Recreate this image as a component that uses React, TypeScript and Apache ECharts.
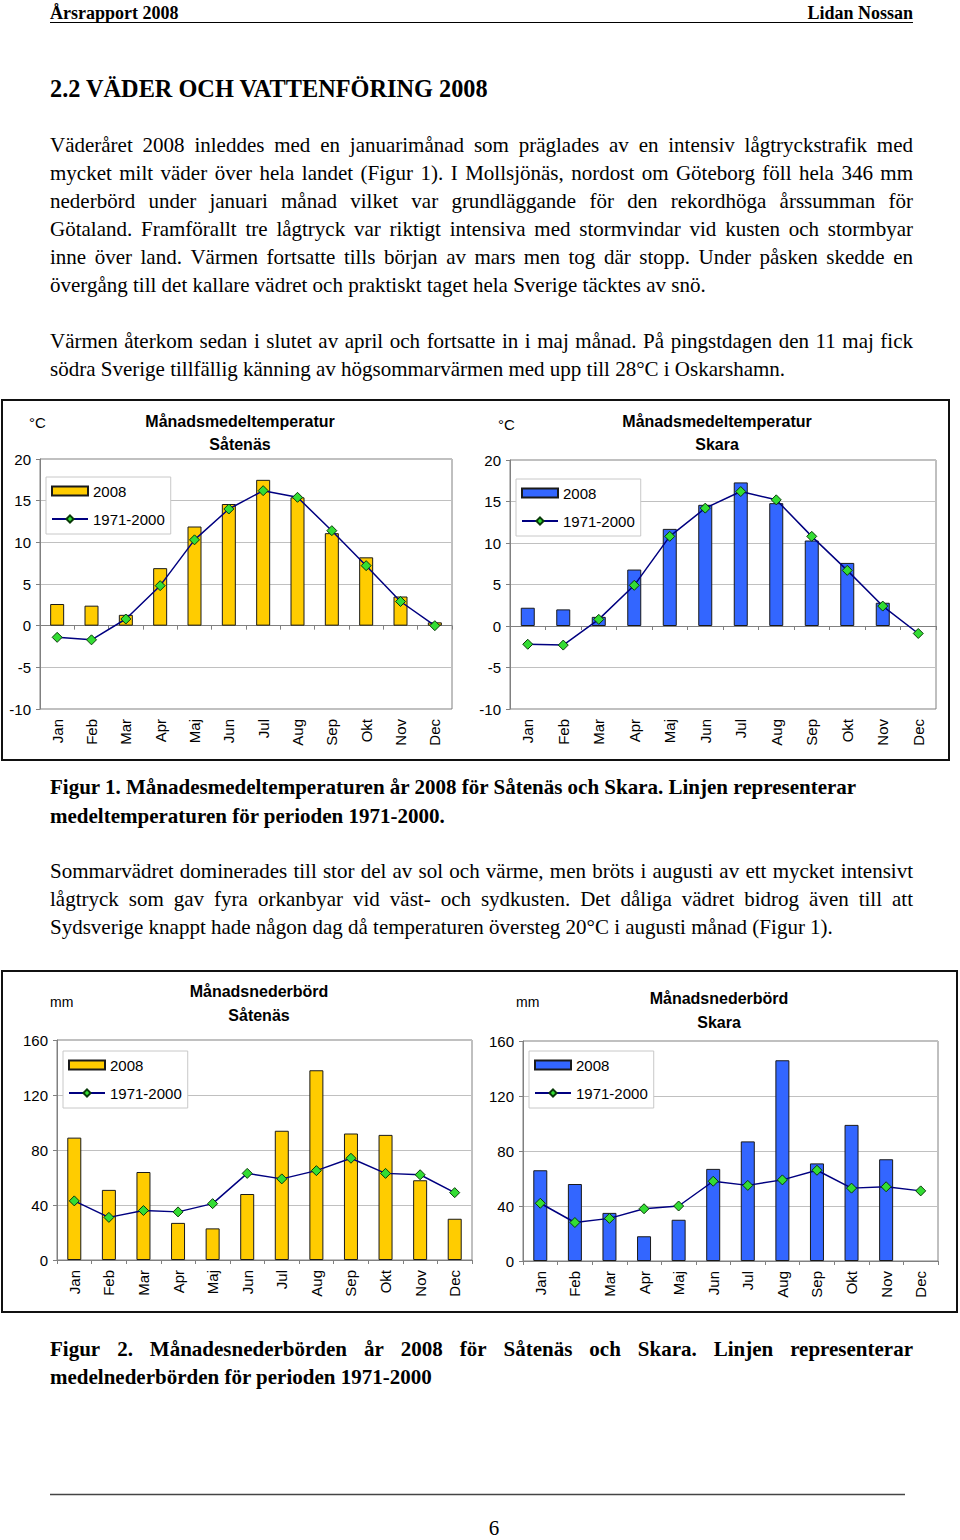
import React, { useEffect, useRef } from "react";
import * as echarts from "echarts";

// ---------- DATA ----------
const months = ["Jan", "Feb", "Mar", "Apr", "Maj", "Jun", "Jul", "Aug", "Sep", "Okt", "Nov", "Dec"];

const tempSatenas2008 = [2.6, 2.4, 1.3, 6.9, 11.9, 14.6, 17.5, 15.4, 11.1, 8.2, 3.5, 0.4];
const tempSatenasNormal = [-1.4, -1.7, 0.8, 4.8, 10.3, 14.0, 16.2, 15.4, 11.4, 7.2, 2.9, 0.0];
const tempSkara2008 = [2.2, 2.0, 1.1, 6.8, 11.7, 14.6, 17.3, 14.8, 10.3, 7.6, 2.8, null];
const tempSkaraNormal = [-2.2, -2.3, 0.8, 4.9, 10.8, 14.2, 16.2, 15.2, 10.8, 6.7, 2.4, -0.9];

const precSatenas2008 = [89, 51, 64, 27, 23, 48, 94, 138, 92, 91, 58, 30];
const precSatenasNormal = [43, 31, 36, 35, 41, 63, 59, 65, 74, 63, 62, 49];
const precSkara2008 = [66, 56, 35, 18, 30, 67, 87, 146, 71, 99, 74, null];
const precSkaraNormal = [42, 28, 31, 38, 40, 58, 55, 59, 66, 53, 54, 51];

const tempScale = { min: -10, max: 20, interval: 5 };
const precScale = { min: 0, max: 160, interval: 40 };

const seriesNames = ["2008", "1971-2000"];

// ---------- PAGE TEXT ----------
type Line = { text: string; x: number; y: number; size: number; bold?: boolean; mode?: "left" | "right" | "center" | "justify" };
const X0 = 50;
const X1 = 913;
const BODY = 21;

const pageLines: Line[] = [
  { text: "Årsrapport 2008", x: 50, y: 13, size: 18, bold: true },
  { text: "Lidan Nossan", x: 913, y: 13, size: 18, bold: true, mode: "right" },
  { text: "2.2 VÄDER OCH VATTENFÖRING 2008", x: 50, y: 88, size: 24.3, bold: true },

  { text: "Väderåret 2008 inleddes med en januarimånad som präglades av en intensiv lågtryckstrafik med", x: X0, y: 145, size: BODY, mode: "justify" },
  { text: "mycket milt väder över hela landet (Figur 1). I Mollsjönäs, nordost om Göteborg föll hela 346 mm", x: X0, y: 173, size: BODY, mode: "justify" },
  { text: "nederbörd under januari månad vilket var grundläggande för den rekordhöga årssumman för", x: X0, y: 201, size: BODY, mode: "justify" },
  { text: "Götaland. Framförallt tre lågtryck var riktigt intensiva med stormvindar vid kusten och stormbyar", x: X0, y: 229, size: BODY, mode: "justify" },
  { text: "inne över land. Värmen fortsatte tills början av mars men tog där stopp. Under påsken skedde en", x: X0, y: 257, size: BODY, mode: "justify" },
  { text: "övergång till det kallare vädret och praktiskt taget hela Sverige täcktes av snö.", x: X0, y: 285, size: BODY },

  { text: "Värmen återkom sedan i slutet av april och fortsatte in i maj månad. På pingstdagen den 11 maj fick", x: X0, y: 341, size: BODY, mode: "justify" },
  { text: "södra Sverige tillfällig känning av högsommarvärmen med upp till 28°C i Oskarshamn.", x: X0, y: 369, size: BODY },

  { text: "Figur 1. Månadesmedeltemperaturen år 2008 för Såtenäs och Skara. Linjen representerar", x: X0, y: 787, size: 21, bold: true },
  { text: "medeltemperaturen för perioden 1971-2000.", x: X0, y: 816, size: 21, bold: true },

  { text: "Sommarvädret dominerades till stor del av sol och värme, men bröts i augusti av ett mycket intensivt", x: X0, y: 871, size: BODY, mode: "justify" },
  { text: "lågtryck som gav fyra orkanbyar vid väst- och sydkusten. Det dåliga vädret bidrog även till att", x: X0, y: 899, size: BODY, mode: "justify" },
  { text: "Sydsverige knappt hade någon dag då temperaturen översteg 20°C i augusti månad (Figur 1).", x: X0, y: 927, size: BODY },

  { text: "Figur 2. Månadesnederbörden år 2008 för Såtenäs och Skara. Linjen representerar", x: X0, y: 1349, size: 21, bold: true, mode: "justify" },
  { text: "medelnederbörden för perioden 1971-2000", x: X0, y: 1377, size: 21, bold: true },

  { text: "6", x: 494, y: 1528, size: 21, mode: "center" },
];

// ---------- CHART PANELS ----------
type Panel = {
  title: string[];
  unit: string;
  bars: (number | null)[];
  line: (number | null)[];
  barColor: string;
  scale: { min: number; max: number; interval: number };
  grid: { left: number; top: number; width: number; height: number };
  titleX: number;
  titleY: number[];
  unitX: number;
  unitY: number;
  legend: { left: number; top: number };
  zeroAxis: boolean;
};

const panels: Panel[] = [
  {
    title: ["Månadsmedeltemperatur", "Såtenäs"], unit: "°C",
    bars: tempSatenas2008, line: tempSatenasNormal, barColor: "#FFCC00", scale: tempScale,
    grid: { left: 40, top: 459, width: 412, height: 250 },
    titleX: 240, titleY: [421, 444], unitX: 29, unitY: 422,
    legend: { left: 46, top: 477 }, zeroAxis: true,
  },
  {
    title: ["Månadsmedeltemperatur", "Skara"], unit: "°C",
    bars: tempSkara2008, line: tempSkaraNormal, barColor: "#3366FF", scale: tempScale,
    grid: { left: 510, top: 460, width: 426, height: 249 },
    titleX: 717, titleY: [421, 444], unitX: 498, unitY: 424,
    legend: { left: 516, top: 479 }, zeroAxis: true,
  },
  {
    title: ["Månadsnederbörd", "Såtenäs"], unit: "mm",
    bars: precSatenas2008, line: precSatenasNormal, barColor: "#FFCC00", scale: precScale,
    grid: { left: 57, top: 1040, width: 415, height: 220 },
    titleX: 259, titleY: [991, 1015], unitX: 50, unitY: 1002,
    legend: { left: 63, top: 1051 }, zeroAxis: false,
  },
  {
    title: ["Månadsnederbörd", "Skara"], unit: "mm",
    bars: precSkara2008, line: precSkaraNormal, barColor: "#3366FF", scale: precScale,
    grid: { left: 523, top: 1041, width: 415, height: 220 },
    titleX: 719, titleY: [998, 1022], unitX: 516, unitY: 1002,
    legend: { left: 529, top: 1051 }, zeroAxis: false,
  },
];

const SANS = "'Liberation Sans', Arial, sans-serif";
const SERIF = "'Liberation Serif', 'Times New Roman', serif";

function buildTextGraphics(): any[] {
  const out: any[] = [];
  const canvas = document.createElement("canvas");
  const ctx = canvas.getContext("2d");
  for (const ln of pageLines) {
    const weight = ln.bold ? "bold" : "normal";
    const baseStyle = {
      fill: "#000",
      fontSize: ln.size,
      fontWeight: weight,
      fontFamily: SERIF,
      verticalAlign: "middle",
      textVerticalAlign: "middle",
    };
    if (ln.mode === "justify" && ctx) {
      ctx.font = `${weight} ${ln.size}px 'Liberation Serif'`;
      const words = ln.text.split(" ");
      const widths = words.map((w) => ctx.measureText(w).width);
      const total = widths.reduce((a, b) => a + b, 0);
      const gap = (X1 - ln.x - total) / (words.length - 1);
      let x = ln.x;
      words.forEach((w, i) => {
        out.push({
          type: "text", x, y: ln.y, silent: true,
          style: { ...baseStyle, text: w, align: "left", textAlign: "left" },
        });
        x += widths[i] + gap;
      });
    } else {
      const align = ln.mode === "right" ? "right" : ln.mode === "center" ? "center" : "left";
      out.push({
        type: "text", x: ln.x, y: ln.y, silent: true,
        style: { ...baseStyle, text: ln.text, align, textAlign: align },
      });
    }
  }
  return out;
}

function buildOption(): any {
  const grids: any[] = [];
  const xAxes: any[] = [];
  const yAxes: any[] = [];
  const series: any[] = [];
  const legends: any[] = [];
  const graphics: any[] = [];

  // page decorations
  graphics.push({ type: "line", silent: true, shape: { x1: 50, y1: 22.5, x2: 913, y2: 22.5 }, style: { stroke: "#000", lineWidth: 1 } });
  graphics.push({ type: "line", silent: true, shape: { x1: 50, y1: 1494.5, x2: 905, y2: 1494.5 }, style: { stroke: "#444", lineWidth: 1.5 } });
  graphics.push({ type: "rect", silent: true, shape: { x: 2, y: 400, width: 947, height: 360 }, style: { fill: "none", stroke: "#111", lineWidth: 2 } });
  graphics.push({ type: "rect", silent: true, shape: { x: 2, y: 971, width: 955, height: 341 }, style: { fill: "none", stroke: "#111", lineWidth: 2 } });

  graphics.push(...buildTextGraphics());

  panels.forEach((p, i) => {
    const suffix = " ".repeat(i);
    const barName = seriesNames[0] + suffix;
    const lineName = seriesNames[1] + suffix;

    grids.push({ ...p.grid, show: true, borderColor: "#808080", borderWidth: 1, backgroundColor: "transparent", containLabel: false });

    const labelAxisIndex = xAxes.length;
    xAxes.push({
      type: "category", gridIndex: i, data: months, position: "bottom",
      axisLine: { show: !p.zeroAxis, onZero: false, lineStyle: { color: "#808080" } },
      axisTick: { show: !p.zeroAxis, length: 4, lineStyle: { color: "#808080" } },
      axisLabel: { rotate: 90, fontSize: 15, fontFamily: SANS, color: "#000", margin: 10 },
      splitLine: { show: false },
    });
    if (p.zeroAxis) {
      xAxes.push({
        type: "category", gridIndex: i, data: months, position: "bottom",
        axisLine: { show: true, onZero: true, lineStyle: { color: "#808080" } },
        axisTick: { show: true, length: 4, lineStyle: { color: "#808080" } },
        axisLabel: { show: false },
        splitLine: { show: false },
      });
    }
    yAxes.push({
      type: "value", gridIndex: i, min: p.scale.min, max: p.scale.max, interval: p.scale.interval,
      axisLine: { show: true, lineStyle: { color: "#808080" } },
      axisTick: { show: true, length: 4, lineStyle: { color: "#808080" } },
      axisLabel: { fontSize: 15, fontFamily: SANS, color: "#000", margin: 9 },
      splitLine: { show: true, lineStyle: { color: "#c0c0c0", width: 1 } },
    });

    series.push({
      name: barName, type: "bar", xAxisIndex: labelAxisIndex, yAxisIndex: i,
      data: p.bars, barWidth: 14, z: 2,
      itemStyle: { color: p.barColor, borderColor: "#1a1a1a", borderWidth: 1 },
    });
    series.push({
      name: lineName, type: "line", xAxisIndex: labelAxisIndex, yAxisIndex: i,
      data: p.line, z: 4, symbol: "diamond", symbolSize: 10,
      lineStyle: { color: "#000080", width: 1.5 },
      itemStyle: { color: "#33DD33", borderColor: "#0a3a0a", borderWidth: 1 },
    });

    legends.push({
      orient: "vertical", left: p.legend.left, top: p.legend.top,
      padding: [6, 6, 7, 5], itemGap: 12, itemWidth: 36, itemHeight: 9,
      borderColor: "#c8c8c8", borderWidth: 1, backgroundColor: "#fff",
      selectedMode: false,
      textStyle: { fontSize: 15, fontFamily: SANS, color: "#000", lineHeight: 16 },
      formatter: (n: string) => n.trim(),
      data: [{ name: barName, icon: "rect" }, { name: lineName }],
    });

    p.title.forEach((t, k) => {
      graphics.push({
        type: "text", x: p.titleX, y: p.titleY[k], silent: true,
        style: { text: t, fill: "#000", fontSize: 16, fontWeight: "bold", fontFamily: SANS, align: "center", textAlign: "center", verticalAlign: "middle", textVerticalAlign: "middle" },
      });
    });
    graphics.push({
      type: "text", x: p.unitX, y: p.unitY, silent: true,
      style: { text: p.unit, fill: "#000", fontSize: p.unit === "mm" ? 14 : 15, fontFamily: SANS, align: "left", textAlign: "left", verticalAlign: "middle", textVerticalAlign: "middle" },
    });
  });

  return {
    animation: false,
    backgroundColor: "#fff",
    grid: grids,
    xAxis: xAxes,
    yAxis: yAxes,
    series,
    legend: legends,
    graphic: graphics,
  };
}

export default function App() {
  const ref = useRef<HTMLDivElement>(null);
  useEffect(() => {
    if (!ref.current) return;
    const chart = echarts.init(ref.current, undefined, { renderer: "svg" });
    chart.setOption(buildOption());
    return () => chart.dispose();
  }, []);
  return (
    <div
      ref={ref}
      style={{ position: "absolute", left: 0, top: 0, width: 960, height: 1540, background: "#fff" }}
    />
  );
}
